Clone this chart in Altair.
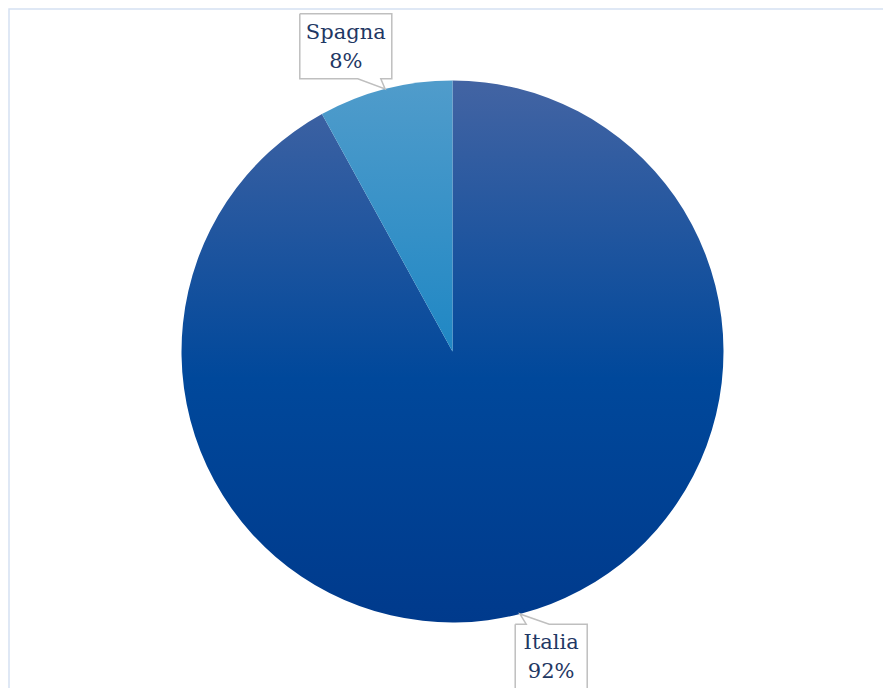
import altair as alt
import pandas as pd
import numpy as np

# ---- data ----
names = ["Italia", "Spagna"]
values = [92, 8]
pct_labels = ["92%", "8%"]

# ---- layout / style ----
W, H = 883, 688
CX, CY, R = 452.5, 351.5, 271
LABEL_R = 322
LABEL_ROT = np.radians(4.2)
LABEL_DX = -4
BOX_HW = {"Italia": 36, "Spagna": 46}
BOX_HH = 32.5
LINE_H = 29
TEXT_COLOR = "#1f3864"
BOX_COLOR = "#bfbfbf"

grad_italia = {
    "gradient": "linear", "x1": 0, "y1": 0, "x2": 0, "y2": 1,
    "stops": [
        {"offset": 0, "color": "#4364a3"},
        {"offset": 0.55, "color": "#00489b"},
        {"offset": 1, "color": "#003a8c"},
    ],
}
grad_spagna = {
    "gradient": "linear", "x1": 0, "y1": 0, "x2": 0, "y2": 1,
    "stops": [
        {"offset": 0, "color": "#509ccb"},
        {"offset": 1, "color": "#1f87c4"},
    ],
}

df = pd.DataFrame({"name": names, "value": values, "pct": pct_labels})
df["idx"] = range(len(df))
df["text"] = df["name"] + "\n" + df["pct"]

total = float(sum(values))
cum = np.cumsum(values)
mid = 2 * np.pi * (cum - np.array(values) / 2) / total
la = mid - LABEL_ROT
df["lx"] = CX + LABEL_R * np.sin(la) + LABEL_DX
df["ly"] = CY - LABEL_R * np.cos(la)
df["tx"] = CX + R * np.sin(mid)
df["ty"] = CY - R * np.cos(mid)

# callout outlines
rows = []
for _, r in df.iterrows():
    hw = BOX_HW[r["name"]]
    L, Rr, T, B = r.lx - hw, r.lx + hw, r.ly - BOX_HH, r.ly + BOX_HH
    side = 1 if r.tx > r.lx else -1
    near = Rr if side > 0 else L
    b1, b2 = near - side * 11, near - side * 34
    lo, hi = min(b1, b2), max(b1, b2)
    if r.ty > r.ly:
        pts = [(L, T), (Rr, T), (Rr, B), (hi, B), (r.tx, r.ty), (lo, B), (L, B), (L, T)]
    else:
        pts = [(L, T), (lo, T), (r.tx, r.ty), (hi, T), (Rr, T), (Rr, B), (L, B), (L, T)]
    for k, (px, py) in enumerate(pts):
        rows.append({"name": r["name"], "k": k, "px": px, "py": py})
outline = pd.DataFrame(rows)

frame = alt.Chart(pd.DataFrame({"a": [0]})).mark_rect(
    filled=False, stroke="#d5e1f2", strokeWidth=1.5
).encode(
    x=alt.value(9), x2=alt.value(W + 20), y=alt.value(9), y2=alt.value(H + 20)
)

pie = alt.Chart(df).mark_arc(outerRadius=R).encode(
    theta=alt.Theta("value:Q", stack=True),
    order=alt.Order("idx:Q"),
    detail=alt.Detail("name:N"),
    fill=alt.condition("datum.name === 'Italia'", alt.value(grad_italia), alt.value(grad_spagna)),
    x=alt.value(CX),
    y=alt.value(CY),
)

boxes = alt.Chart(outline).mark_line(
    color=BOX_COLOR, strokeWidth=1.5, strokeJoin="miter"
).encode(
    x=alt.X("px:Q", scale=None),
    y=alt.Y("py:Q", scale=None),
    detail=alt.Detail("name:N"),
    order=alt.Order("k:Q"),
)

labels = alt.Chart(df).mark_text(
    font="DejaVu Serif", fontSize=21, color=TEXT_COLOR, lineBreak="\n",
    lineHeight=LINE_H, baseline="middle", align="center", dy=-LINE_H / 2 + 1
).encode(
    x=alt.X("lx:Q", scale=None),
    y=alt.Y("ly:Q", scale=None),
    text=alt.Text("text:N"),
)

chart = alt.layer(frame, pie, boxes, labels).properties(
    width=W, height=H, padding=0, autosize=alt.AutoSizeParams(type="none"),
    background="white",
).configure_view(stroke=None)

chart.save("out.html", embed_options={"renderer": "svg", "actions": False})
